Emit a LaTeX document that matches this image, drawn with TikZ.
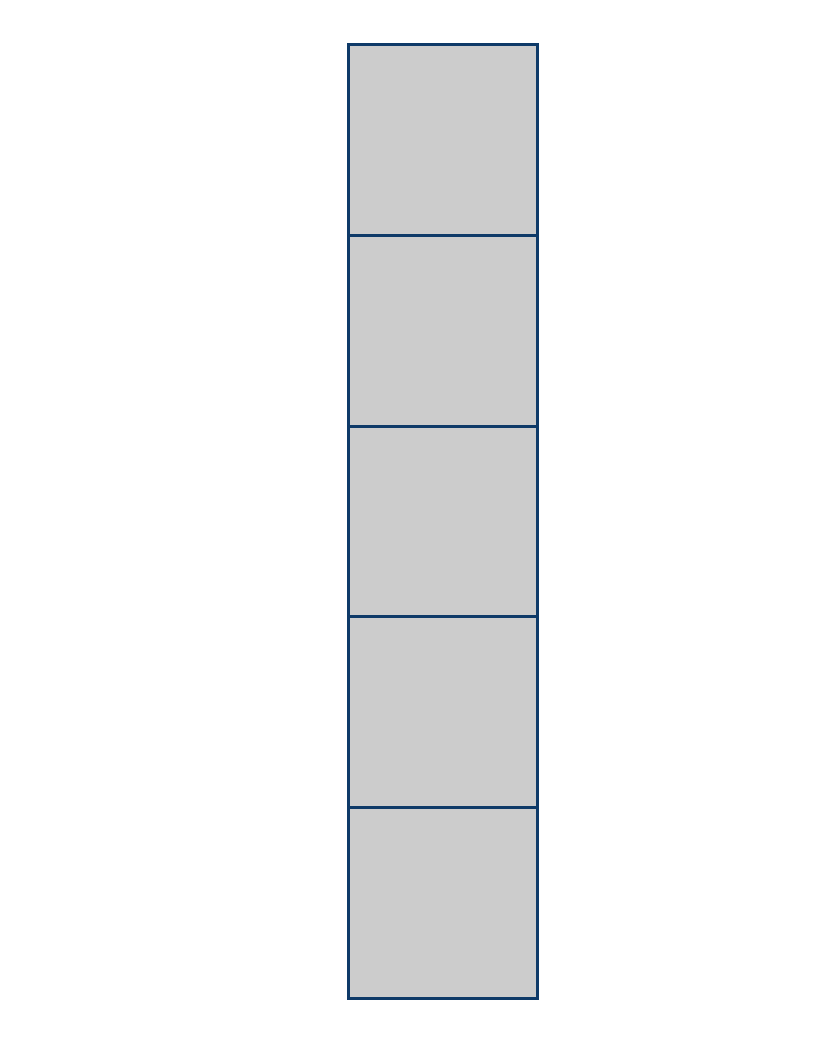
\documentclass[tikz,border=0pt]{standalone}
\usetikzlibrary{positioning}
\definecolor{cEdge}{RGB}{14,58,104}
\definecolor{cCell}{RGB}{204,204,204}
\tikzset{
	cellbox/.style={draw=cEdge, line width=2.25pt, fill=cCell,
		minimum width=189*0.75pt, minimum height=190.6*0.75pt,
		inner sep=0pt, outer sep=0pt},
}
\begin{document}
\begin{tikzpicture}[x=0.75pt,y=-0.75pt]
	\useasboundingbox (0,0) rectangle (813,1045);
	\node[cellbox, anchor=north west] (c1) at (348,45) {};
	\foreach \i [evaluate=\i as \j using int(\i-1)] in {2,...,5}{
		\node[cellbox, below=0pt of c\j] (c\i) {};
	}
\end{tikzpicture}
\end{document}
